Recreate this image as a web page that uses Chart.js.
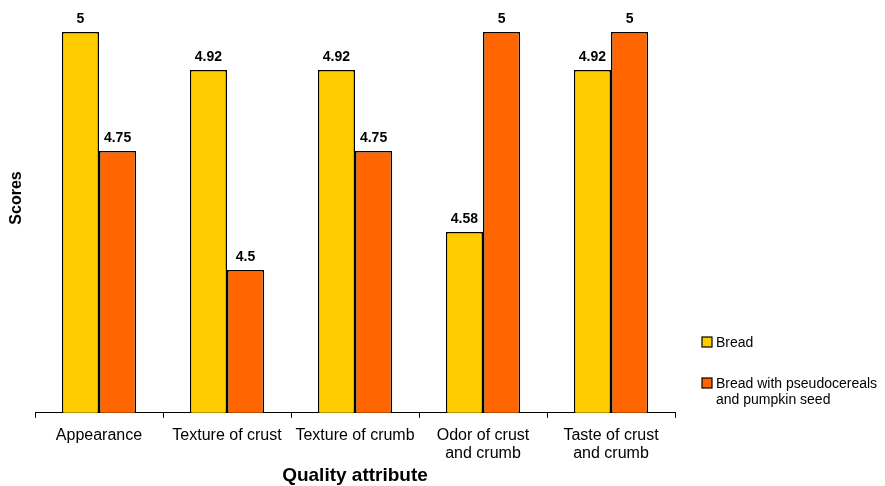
<!DOCTYPE html>
<html>
<head>
<meta charset="utf-8">
<script src="https://cdn.jsdelivr.net/npm/chart.js@4.4.0/dist/chart.umd.min.js"></script>
<style>
  html, body { margin: 0; padding: 0; background: #fff; }
  #wrap { width: 885px; height: 486px; }
</style>
</head>
<body>
<div id="wrap"><canvas id="chart"></canvas></div>
<script>
// Chart data
const categories = ["Appearance", "Texture of crust", "Texture of crumb", ["Odor of crust", "and crumb"], ["Taste of crust", "and crumb"]];
const breadScores = [5, 4.92, 4.92, 4.58, 4.92];
const pumpkinScores = [4.75, 4.5, 4.75, 5, 5];
const seriesNames = ["Bread", ["Bread with pseudocereals", "and pumpkin seed"]];
const yTitle = "Scores";
const xTitle = "Quality attribute";

const fontFamily = "'Liberation Sans', Arial, sans-serif";

// Value labels above each bar
const valueLabels = {
    id: "valueLabels",
    afterDatasetsDraw(chart) {
        const ctx = chart.ctx;
        ctx.save();
        ctx.font = "bold 14px " + fontFamily;
        ctx.fillStyle = "#000";
        ctx.textAlign = "center";
        ctx.textBaseline = "bottom";
        chart.data.datasets.forEach((ds, i) => {
            chart.getDatasetMeta(i).data.forEach((bar, j) => {
                ctx.fillText(String(ds.data[j]), bar.x, bar.y - 6);
            });
        });
        ctx.restore();
    }
};

// Axis titles (the y one sits above the plot middle in the original)
const axisTitles = {
    id: "axisTitles",
    afterDraw(chart) {
        const ctx = chart.ctx;
        ctx.save();
        ctx.fillStyle = "#000";
        ctx.textAlign = "center";
        ctx.textBaseline = "middle";
        ctx.font = "bold 19px " + fontFamily;
        ctx.fillText(xTitle, 355, 476);
        ctx.translate(17, 198);
        ctx.rotate(-Math.PI / 2);
        ctx.font = "bold 16px " + fontFamily;
        ctx.fillText(yTitle, 0, 0);
        ctx.restore();
    }
};

// Legend at the right with wrapped text
const sideLegend = {
    id: "sideLegend",
    afterDraw(chart) {
        const ctx = chart.ctx;
        const rows = [342, 383];
        ctx.save();
        ctx.font = "14px " + fontFamily;
        ctx.textBaseline = "middle";
        chart.data.datasets.forEach((ds, i) => {
            const y = rows[i];
            ctx.fillStyle = ds.backgroundColor;
            ctx.fillRect(702, y - 5, 10, 10);
            ctx.strokeStyle = "#000";
            ctx.lineWidth = 1.2;
            ctx.strokeRect(702, y - 5, 10, 10);
            ctx.fillStyle = "#000";
            const lines = Array.isArray(seriesNames[i]) ? seriesNames[i] : [seriesNames[i]];
            lines.forEach((t, k) => ctx.fillText(t, 716, y + 1 + k * 16));
        });
        ctx.restore();
    }
};

new Chart(document.getElementById("chart"), {
    type: "bar",
    data: {
        labels: categories,
        datasets: [
            { label: "Bread", data: breadScores, backgroundColor: "#FFCC00", borderColor: "#000", borderWidth: 1.5 },
            { label: "Bread with pseudocereals and pumpkin seed", data: pumpkinScores, backgroundColor: "#FF6600", borderColor: "#000", borderWidth: 1.5 }
        ]
    },
    options: {
        responsive: true,
        maintainAspectRatio: false,
        animation: false,
        layout: { padding: { top: 32, left: 35, right: 210, bottom: 15 } },
        plugins: {
            legend: { display: false },
            tooltip: { enabled: false }
        },
        datasets: { bar: { categoryPercentage: 0.58, barPercentage: 1 } },
        scales: {
            x: {
                grid: { display: true, drawOnChartArea: false, color: "#000", tickLength: 5, offset: true },
                border: { color: "#000" },
                ticks: { color: "#000", font: { family: fontFamily, size: 16, lineHeight: 1.1 }, maxRotation: 0, autoSkip: false, padding: 9 }
            },
            y: {
                display: false,
                min: 4.2,
                max: 5
            }
        }
    },
    plugins: [valueLabels, axisTitles, sideLegend]
});
</script>
</body>
</html>
